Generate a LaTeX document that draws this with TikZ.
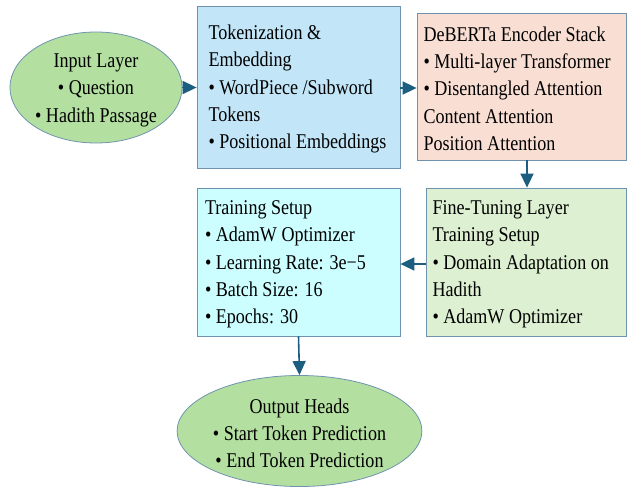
\documentclass[tikz,border=0pt]{standalone}
\usepackage{fontspec}
\setmainfont[FakeStretch=0.86]{Liberation Serif}
\usetikzlibrary{shapes.geometric,arrows.meta}
\definecolor{edgeC}{HTML}{6F93AE}
\definecolor{arrowC}{HTML}{1B5E80}
\definecolor{ellFill}{HTML}{B3E0A0}
\definecolor{tokFill}{HTML}{C2E6F8}
\definecolor{debFill}{HTML}{F9DED3}
\definecolor{ftFill}{HTML}{DDF0D1}
\definecolor{trFill}{HTML}{CCFEFF}
\tikzset{
  base/.style={draw=edgeC, line width=0.8pt, inner sep=0pt, font=\fontsize{21}{27.3}\selectfont, text=black},
  ellnode/.style={base, ellipse, fill=ellFill, align=center},
  boxnode/.style={base, rectangle, align=flush left},
  conn/.style={draw=arrowC, line width=1.6pt, -{Triangle[length=14pt,width=13pt]}}
}
\begin{document}
\begin{tikzpicture}[x=1pt,y=-1pt]
\useasboundingbox (0,0) rectangle (627,487);
\node[ellnode, minimum width=168pt, minimum height=111pt] (in) at (96,87.5)
  {\rule{0pt}{19pt}Input Layer\\• Question\\• Hadith Passage};
\node[boxnode, fill=tokFill, minimum width=203pt, minimum height=162pt, text width=180pt] (tok) at (298.5,87)
  {\rule{0pt}{19pt}Tokenization \&\\Embedding\\• WordPiece /Subword\\Tokens\\• Positional \mbox{Embeddings}};
\node[boxnode, fill=debFill, minimum width=209pt, minimum height=147pt, text width=196pt] (deb) at (521.5,86.5)
  {\rule{0pt}{19pt}DeBERTa Encoder Stack\\• Multi-layer Transformer\\• Disentangled Attention\\Content Attention\\Position Attention};
\node[boxnode, fill=ftFill, minimum width=200pt, minimum height=148pt, text width=187pt] (ft) at (526,262)
  {\rule{0pt}{19pt}Fine-Tuning Layer\\Training Setup\\• Domain Adaptation on\\Hadith\\• AdamW Optimizer};
\node[boxnode, fill=trFill, minimum width=203pt, minimum height=148pt, text width=187pt] (tr) at (298.5,262)
  {\rule{0pt}{19pt}Training Setup\\• AdamW Optimizer\\• Learning Rate: 3e−5\\• Batch Size: 16\\• Epochs: 30};
\node[ellnode, minimum width=235pt, minimum height=111pt] (out) at (299.5,431)
  {\rule{0pt}{19pt}Output Heads\\• Start Token Prediction\\• End Token Prediction};
\draw[conn] (in.east) -- (tok.west |- in.east);
\draw[conn] (tok.east |- 0,88) -- (deb.west |- 0,88);
\draw[conn] (deb.south -| 527,0) -- (ft.north -| 527,0);
\draw[conn] (ft.west |- 0,264) -- (tr.east |- 0,264);
\draw[conn] (tr.south) -- (out.north);
\end{tikzpicture}
\end{document}
